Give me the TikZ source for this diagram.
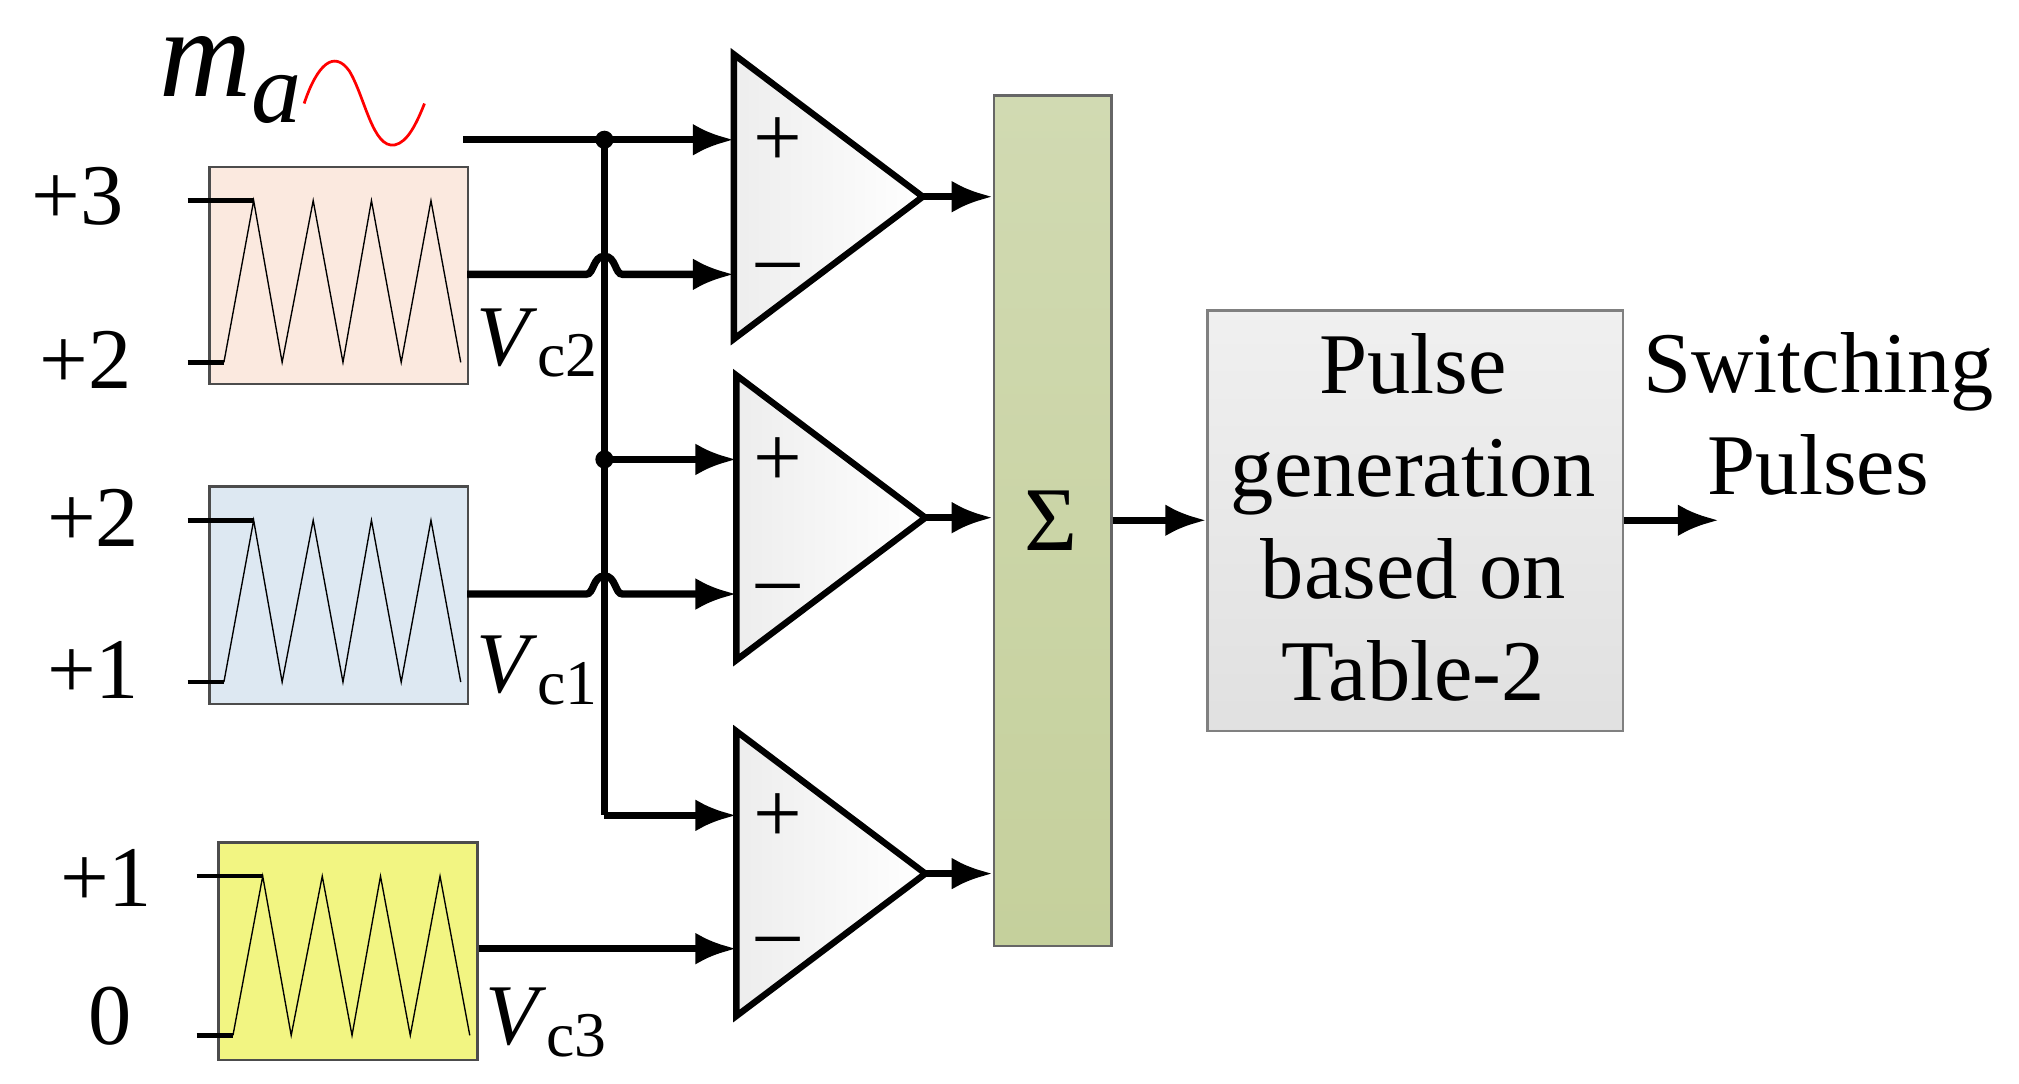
\documentclass[tikz,border=0pt]{standalone}
\usepackage{fontspec}
\setmainfont{Liberation Serif}
\usetikzlibrary{arrows.meta}
\begin{document}
\begin{tikzpicture}[x=0.01cm,y=-0.01cm,
  wire/.style={line width=1.6pt},
  arr/.style={wire,-{Latex[length=9pt,width=7pt]}},
  lbl/.style={font=\fontsize{19}{23}\selectfont},
  gen/.style={draw=black!70,line width=0.5pt},
  cmp/.style={draw,line width=1.4pt,left color=black!7,right color=white},
  tri/.style={line width=0.3pt}]
\useasboundingbox (0,0) rectangle (1560,837);
% generators
\node[gen,fill={rgb,255:red,251;green,233;blue,223},minimum width=200*0.01cm,minimum height=168*0.01cm,anchor=north west,inner sep=0] (g2) at (161,128) {};
\node[gen,fill={rgb,255:red,221;green,232;blue,242},minimum width=200*0.01cm,minimum height=168*0.01cm,anchor=north west,inner sep=0] (g1) at (161,375) {};
\node[gen,fill={rgb,255:red,242;green,245;blue,130},minimum width=200*0.01cm,minimum height=168*0.01cm,anchor=north west,inner sep=0] (g3) at (168,650) {};
% waves
\foreach \dx/\yt/\yb in {0/155/280,0/402/527,7/677/800}{
  \draw[tri] (173+\dx,\yb) -- (196+\dx,\yt) -- (218+\dx,\yb) -- (242+\dx,\yt) -- (265+\dx,\yb) -- (287+\dx,\yt) -- (310+\dx,\yb) -- (333+\dx,\yt) -- (356+\dx,\yb);
  \draw[line width=1pt] (145+\dx,\yt) -- (196+\dx,\yt);
  \draw[line width=1pt] (145+\dx,\yb) -- (173+\dx,\yb);
}
\node[lbl] (l3a) at (60,152) {+3};
\node[lbl] (l2a) at (66,278) {+2};
\node[lbl] (l2b) at (72,400) {+2};
\node[lbl] (l1a) at (72,518) {+1};
\node[lbl] (l1b) at (82,678) {+1};
\node[lbl] (l0) at (85,785) {0};
\node[lbl] (vc2) at (415,265) {\textit{V}\raisebox{-0.3ex}{\fontsize{14}{16}\selectfont c2}};
\node[lbl] (vc1) at (415,518) {\textit{V}\raisebox{-0.3ex}{\fontsize{14}{16}\selectfont c1}};
\node[lbl] (vc3) at (422,790) {\textit{V}\raisebox{-0.3ex}{\fontsize{14}{16}\selectfont c3}};
% m_a
\node[font=\fontsize{28}{30}\selectfont] (ma) at (178,62) {\textit{m}\raisebox{-0.45ex}{\fontsize{22}{24}\selectfont\textit{a}}};
\draw[red,line width=0.6pt] (235,80) .. controls (245,50) and (258,38) .. (270,55) .. controls (282,75) and (288,115) .. (305,112) .. controls (315,110) and (322,95) .. (328,80);
% comparators
\draw[cmp] (567,42) -- (713,152) -- (567,262) -- cycle;
\draw[cmp] (569,290) -- (715,400) -- (569,510) -- cycle;
\draw[cmp] (569,565) -- (715,675) -- (569,785) -- cycle;
\foreach \y/\s in {110/+,212/--,357/+,460/--,632/+,733/--}{
  \node[lbl] at (601,\y) {\s};
}
\coordinate (c1p) at (567,108); \coordinate (c1m) at (567,212); \coordinate (c1o) at (713,152);
\coordinate (c2p) at (569,355); \coordinate (c2m) at (569,459); \coordinate (c2o) at (715,400);
\coordinate (c3p) at (569,630); \coordinate (c3m) at (569,733); \coordinate (c3o) at (715,675);
% sigma
\node[draw=black!60,line width=0.5pt,top color={rgb,255:red,209;green,218;blue,178},bottom color={rgb,255:red,197;green,208;blue,156},minimum width=91*0.01cm,minimum height=657*0.01cm,anchor=north west,inner sep=0] (sig) at (767,73) {};
\node[font=\fontsize{20}{24}\selectfont] at (812,402) {Σ};
% pulse box
\node[draw=black!50,line width=0.5pt,top color=black!6,bottom color=black!12,minimum width=321*0.01cm,minimum height=325*0.01cm,anchor=north west,inner sep=0] (pg) at (932,239) {};
\node[lbl,align=center,font=\fontsize{19}{22.5}\selectfont] at (1092,400) {Pulse\\generation\\based on\\Table-2};
\node[lbl,align=center,font=\fontsize{19}{22.5}\selectfont] (sp) at (1405,320) {Switching\\Pulses};
\coordinate (out) at (1328,402);
% wiring
\coordinate (src) at (358,108);
\coordinate (j1) at (467,108);
\coordinate (j2) at (467,355);
\coordinate (jb) at (467,630);
\draw[arr] (src) -- (c1p);
\draw[wire] (j1) -- (jb);
\draw[arr] (j2) -- (c2p);
\draw[arr] (jb) -- (c3p);
\fill (j1) circle (7); \fill (j2) circle (7);
\foreach \g/\y/\c in {g2/212/c1m,g1/459/c2m}{
  \draw[arr] (361,\y) -- (453,\y) .. controls (459,\y) and (458,\y-14) .. (467,\y-14) .. controls (476,\y-14) and (475,\y) .. (481,\y) -- (\c);
}
\draw[arr] (g3.east |- c3m) -- (c3m);
\draw[arr] (c1o) -- (sig.west |- c1o);
\draw[arr] (c2o) -- (sig.west |- c2o);
\draw[arr] (c3o) -- (sig.west |- c3o);
\draw[arr] (sig.east |- 0,402) -- (pg.west |- 0,402);
\draw[arr] (pg.east |- out) -- (out);
\end{tikzpicture}
\end{document}
